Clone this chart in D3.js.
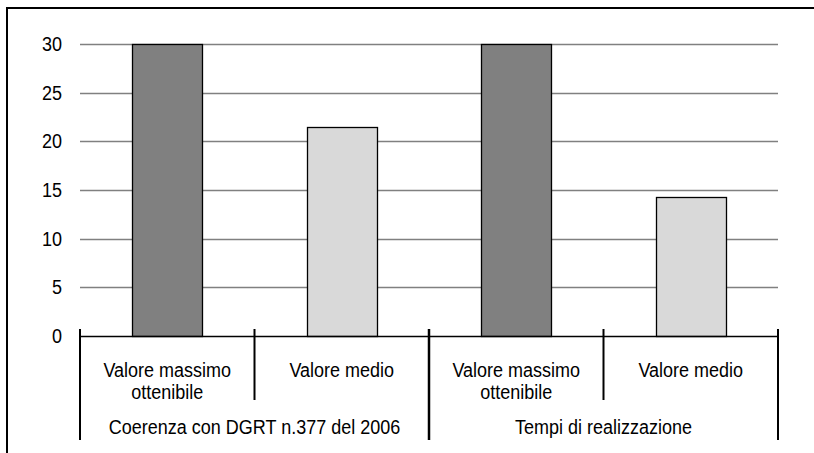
<!DOCTYPE html>
<html><head><meta charset="utf-8">
<script src="https://cdn.jsdelivr.net/npm/d3@7"></script>
<style>body{margin:0;background:#fff}svg{display:block}text{font-family:"Liberation Sans",Arial,sans-serif;fill:#000}</style>
</head><body>
<script>
const categories = ["Valore massimo|ottenibile", "Valore medio", "Valore massimo|ottenibile", "Valore medio"];
const groups = ["Coerenza con DGRT n.377 del 2006", "Tempi di realizzazione"];
const values = [30, 21.5, 30, 14.3];
const barKinds = ["max", "avg", "max", "avg"];
const yTicks = [0, 5, 10, 15, 20, 25, 30];

const W = 814, H = 453;
const FS = 18, SY = 1.17;
const svg = d3.select("body").append("svg").attr("width", W).attr("height", H);

// outer frame (extends past right/bottom edge)
svg.append("rect").attr("x", 7).attr("y", 8).attr("width", W + 10).attr("height", H + 10)
  .attr("fill", "none").attr("stroke", "#000").attr("stroke-width", 2);

const x = d3.scaleBand().domain(d3.range(categories.length)).range([80, 778]).paddingInner(0).paddingOuter(0);
const y = d3.scaleLinear().domain([0, 30]).range([336, 44]);
const fills = {max: "#808080", avg: "#d9d9d9"};

// gridlines
svg.append("g").selectAll("line").data(yTicks.filter(d => d > 0)).join("line")
  .attr("x1", 80).attr("x2", 778).attr("y1", d => Math.round(y(d)) + 0.5).attr("y2", d => Math.round(y(d)) + 0.5)
  .attr("stroke", "#808080").attr("stroke-width", 1.3);

// y labels (stretched vertically like the reference rendering)
svg.append("g").selectAll("text").data(yTicks).join("text")
  .attr("transform", d => `translate(62,${y(d) + 7}) scale(1,${SY})`)
  .attr("text-anchor", "end")
  .attr("font-size", FS).text(d => d);

// bars
const bw = x.bandwidth() * 0.4;
svg.append("g").selectAll("rect").data(values).join("rect")
  .attr("x", (d, i) => Math.round(x(i) + x.bandwidth() / 2 - bw / 2) + 0.5)
  .attr("y", d => Math.round(y(d)) + 0.5)
  .attr("width", Math.round(bw))
  .attr("height", d => Math.round(y(0) - y(d)))
  .attr("fill", (d, i) => fills[barKinds[i]])
  .attr("stroke", "#000").attr("stroke-width", 1.3);

// baseline
svg.append("line").attr("x1", 80).attr("x2", 778).attr("y1", y(0) + 0.5).attr("y2", y(0) + 0.5)
  .attr("stroke", "#000").attr("stroke-width", 1.3);

// separators
const bounds = d3.range(categories.length + 1).map(i => i < categories.length ? x(i) : x.range()[1]);
svg.append("g").selectAll("line").data(bounds).join("line")
  .attr("x1", d => d).attr("x2", d => d)
  .attr("y1", 329)
  .attr("y2", (d, i) => (i % 2 === 0) ? 440 : 400)
  .attr("stroke", "#000").attr("stroke-width", (d, i) => i === 2 ? 2.5 : 2);

// category labels
svg.append("g").selectAll("g").data(categories).join("g")
  .attr("transform", (d, i) => `translate(${x(i) + x.bandwidth() / 2},377) scale(1,${SY})`)
  .each(function(d) {
    d3.select(this).selectAll("text").data(d.split("|")).join("text")
      .attr("x", 0).attr("y", (p, j) => j * 19)
      .attr("text-anchor", "middle").attr("font-size", FS).text(p => p);
  });

// group labels
svg.append("g").selectAll("text").data(groups).join("text")
  .attr("transform", (d, i) => `translate(${x(i * 2 + 1)},434) scale(1,${SY})`)
  .attr("text-anchor", "middle").attr("font-size", FS).text(d => d);
</script>
</body></html>
